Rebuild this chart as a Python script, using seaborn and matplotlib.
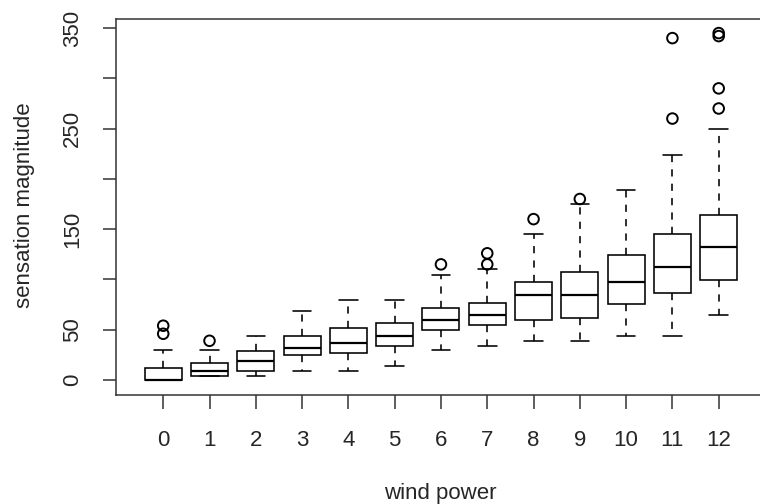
import numpy as np
import pandas as pd
import seaborn as sns
from matplotlib import pyplot as plt

# box summary (one entry per wind power)
wind_power = [0, 1, 2, 3, 4, 5, 6, 7, 8, 9, 10, 11, 12]
whisker_low = [0, 4, 4, 9, 9, 14, 30, 34, 39, 39, 44, 44, 65]
q1 = [0, 4, 9, 25, 27, 34, 50, 55, 60, 62, 76, 87, 99]
median = [0, 9, 19, 32, 37, 44, 60, 65, 85, 85, 97, 112, 132]
q3 = [12, 17, 29, 44, 52, 57, 72, 77, 97, 107, 124, 145, 164]
whisker_high = [30, 30, 44, 69, 80, 80, 104, 110, 145, 175, 189, 224, 250]

# outliers
out_power = [0, 0, 1, 6, 7, 7, 8, 9, 11, 11, 12, 12, 12, 12]
out_value = [46, 54, 39, 115, 115, 126, 160, 180, 260, 340, 270, 290, 342, 345]

sns.set_theme(style="white")
plt.rcParams['font.family'] = ['Liberation Sans', 'DejaVu Sans']

# five values per group give exactly these quartiles / whisker ends
rows = []
for i, p in enumerate(wind_power):
    for v in (whisker_low[i], q1[i], median[i], q3[i], whisker_high[i]):
        rows.append({"wind power": p, "sensation magnitude": v})
df = pd.DataFrame(rows)
df_out = pd.DataFrame({"wind power": out_power, "sensation magnitude": out_value})

fig = plt.figure(figsize=(7.6, 5.04), dpi=100)
ax = fig.add_axes([116 / 760, 109 / 504, 649 / 760, 376 / 504])

sns.boxplot(data=df, x="wind power", y="sensation magnitude", native_scale=True,
            whis=(0, 100), width=0.8, ax=ax, showfliers=False,
            boxprops=dict(facecolor="white", edgecolor="black", linewidth=1.15),
            whiskerprops=dict(color="black", linewidth=1.15, linestyle=(0, (4.5, 4.5))),
            capprops=dict(color="black", linewidth=1.15),
            medianprops=dict(color="black", linewidth=1.6))
sns.scatterplot(data=df_out, x="wind power", y="sensation magnitude", ax=ax,
                marker="o", s=58, facecolor="none", edgecolor="black",
                linewidth=1.4, zorder=5)

ax.set_xlim(-1.02, 13.0)
ax.set_ylim(-14.9, 359)
ax.set_xticks(wind_power)
ax.set_xticklabels([str(p) for p in wind_power])
ax.set_yticks([0, 50, 100, 150, 200, 250, 300, 350])
ax.set_yticklabels(["0", "50", "", "150", "", "250", "", "350"], rotation=90, va="center")

ax.tick_params(axis="x", direction="out", length=10, width=1.1, color="#333333",
               pad=15, labelsize=16, bottom=True)
ax.tick_params(axis="y", direction="out", length=9.5, width=1.1, color="#333333",
               pad=14, labelsize=16, left=True)
for s in ax.spines.values():
    s.set_color("#333333")
    s.set_linewidth(1.1)

ax.set_xlabel("wind power", fontsize=16)
ax.set_ylabel("sensation magnitude", fontsize=16)
ax.xaxis.set_label_coords((440 - 116) / 649, (395 - 483) / 376)
ax.yaxis.set_label_coords((35 - 116) / 649, (395 - 205) / 376)

plt.savefig("out.png", dpi=100)
